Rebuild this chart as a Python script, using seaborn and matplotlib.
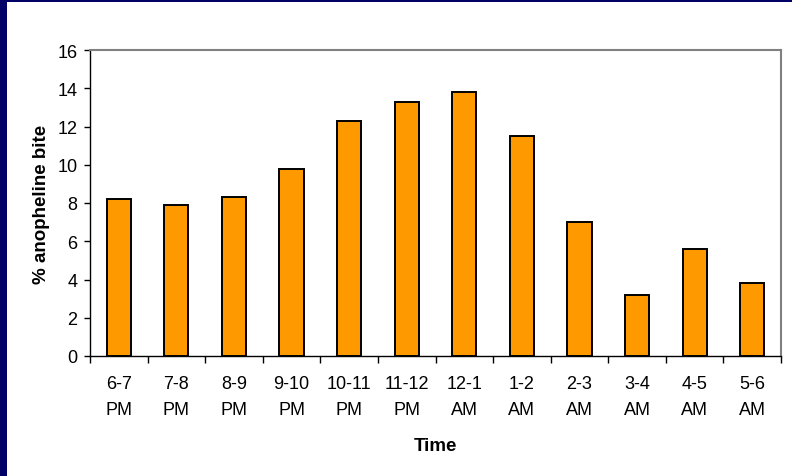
import numpy as np
import pandas as pd
import matplotlib
matplotlib.use("Agg")
import matplotlib.pyplot as plt
import seaborn as sns
from matplotlib.patches import Rectangle

categories = ["6-7\nPM", "7-8\nPM", "8-9\nPM", "9-10\nPM", "10-11\nPM", "11-12\nPM",
              "12-1\nAM", "1-2\nAM", "2-3\nAM", "3-4\nAM", "4-5\nAM", "5-6\nAM"]
values = [8.2, 7.9, 8.3, 9.8, 12.3, 13.3, 13.8, 11.5, 7.0, 3.2, 5.6, 3.8]
yticks = [0, 2, 4, 6, 8, 10, 12, 14, 16]

sns.set_theme(style="white")
plt.rcParams['font.family'] = ['Liberation Sans', 'DejaVu Sans']
plt.rcParams['text.color'] = 'black'
plt.rcParams['axes.labelcolor'] = 'black'
plt.rcParams['xtick.color'] = 'black'
plt.rcParams['ytick.color'] = 'black'

fig = plt.figure(figsize=(7.92, 4.77), dpi=100)
fig.patch.set_facecolor("white")
# navy frame on left and top
fig.patches.append(Rectangle((0, 0), 7/792, 1, transform=fig.transFigure,
                             facecolor="#000066", edgecolor="none", zorder=0))
fig.patches.append(Rectangle((0, 1 - 3/477), 1, 3/477, transform=fig.transFigure,
                             facecolor="#000066", edgecolor="none", zorder=0))

ax = fig.add_axes([90/792, 1 - 357/477, 691/792, 306/477])
df = pd.DataFrame({"Time": categories, "val": values})
sns.barplot(data=df, x="Time", y="val", color="#FF9900", edgecolor="black",
            linewidth=1.4, width=0.42, saturation=1, ax=ax)

ax.set_xlim(-0.5, len(categories) - 0.5)
ax.set_ylim(0, 16)
ax.set_yticks(yticks)
ax.set_yticklabels([str(t) for t in yticks], fontsize=13)
ax.set_xticks(range(len(categories)))
ax.set_xticklabels(categories, fontsize=13, linespacing=1.65)
ax.set_xticks(np.arange(-0.5, len(categories)), minor=True)
ax.tick_params(axis="x", which="major", length=0, pad=14)
ax.tick_params(axis="x", which="minor", length=5, width=1, color="black", direction="out", bottom=True)
ax.tick_params(axis="y", which="major", length=4, width=1, color="black", direction="out", left=True, pad=5)

for s in ["left", "bottom"]:
    ax.spines[s].set_color("black")
    ax.spines[s].set_linewidth(1.0)
for s in ["top", "right"]:
    ax.spines[s].set_color("#808080")
    ax.spines[s].set_linewidth(1.5)

ax.set_xlabel("Time", fontsize=13.5, fontweight="bold", labelpad=14)
ax.set_ylabel("% anopheline bite", fontsize=13.5, fontweight="bold", labelpad=5)

fig.savefig("out.png", dpi=100, facecolor="white")
